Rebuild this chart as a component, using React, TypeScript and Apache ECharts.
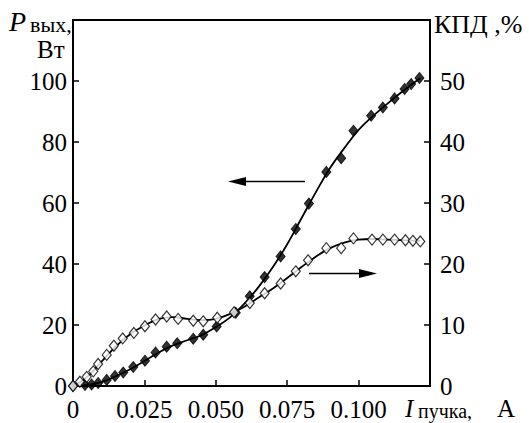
import React, { useEffect, useRef } from 'react';
import * as echarts from 'echarts';

// Filled diamonds: output power, W, vs beam current, A
const currentP = [0, 0.0042, 0.0065, 0.0088, 0.0118, 0.0147, 0.0176, 0.0211, 0.0252, 0.0289, 0.0328, 0.0365, 0.0421, 0.0456, 0.0503, 0.057, 0.0619, 0.0671, 0.0727, 0.078, 0.0826, 0.0887, 0.0939, 0.0982, 0.1044, 0.1085, 0.1126, 0.1161, 0.1184, 0.1213];
const powerW = [0, 0.3, 0.5, 1.0, 2.0, 3.3, 4.4, 6.2, 8.3, 11.0, 12.9, 14.0, 15.5, 16.8, 19.5, 24.0, 29.4, 35.7, 42.5, 51.5, 59.8, 70.2, 74.7, 83.7, 88.6, 91.3, 94.3, 97.4, 99.0, 101.0];

// Open diamonds: efficiency, %, vs beam current, A
const currentE = [0, 0.0024, 0.0048, 0.0071, 0.0088, 0.0118, 0.0143, 0.0174, 0.0213, 0.0252, 0.0289, 0.0328, 0.0368, 0.0421, 0.0456, 0.0505, 0.0564, 0.0619, 0.0671, 0.0727, 0.078, 0.0823, 0.0887, 0.0939, 0.0982, 0.1047, 0.1085, 0.1126, 0.1164, 0.119, 0.1216];
const efficiency = [0, 0.7, 1.5, 2.4, 3.6, 5.1, 6.6, 7.8, 8.7, 9.8, 10.9, 11.4, 11.0, 10.7, 10.6, 11.2, 12.1, 13.6, 15.2, 16.8, 18.8, 20.6, 22.6, 22.6, 24.2, 24.0, 24.0, 24.0, 23.9, 23.8, 23.7];

// Fitted curves as drawn in the figure
const curveX = [0, 0.005, 0.01, 0.015, 0.02, 0.025, 0.03, 0.035, 0.04, 0.045, 0.05, 0.055, 0.06, 0.065, 0.07, 0.075, 0.08, 0.085, 0.09, 0.095, 0.1, 0.105, 0.11, 0.115, 0.1216];
const powerCurve = [0, 0.4, 1.3, 3.2, 5.5, 8.2, 11.0, 13.3, 15.0, 16.7, 19.3, 22.5, 27.0, 32.5, 39.0, 46.5, 55.0, 63.5, 71.5, 78.0, 84.0, 88.5, 92.5, 96.3, 101.0];
const effCurve = [0, 1.5, 4.0, 6.5, 8.5, 9.9, 11.0, 11.3, 11.0, 10.8, 11.0, 11.8, 13.0, 14.5, 16.0, 17.7, 19.5, 21.2, 22.6, 23.5, 24.0, 24.1, 24.0, 23.9, 23.8];

const FONT = 'Liberation Serif';

export default function App() {
  const ref = useRef<HTMLDivElement>(null);
  useEffect(() => {
    if (!ref.current) return;
    const chart = echarts.init(ref.current, null, { renderer: 'svg' });
    const tick = { show: true, inside: true, length: 6, lineStyle: { color: '#000', width: 1.5 } };
    chart.setOption({
      animation: false,
      grid: { left: 73, right: 99, top: 20, bottom: 37, show: true, borderColor: '#000', borderWidth: 2 },
      xAxis: {
        type: 'value', min: 0, max: 0.125, interval: 0.025,
        axisLine: { lineStyle: { color: '#000', width: 2 } },
        axisTick: tick,
        splitLine: { show: false },
        axisLabel: { fontFamily: FONT, fontSize: 25, color: '#000', margin: 11, showMaxLabel: false, formatter: (v: number) => (v === 0 ? '0' : v.toFixed(3)) },
      },
      yAxis: [
        {
          type: 'value', min: 0, max: 120, interval: 20, position: 'left',
          axisLine: { show: true, lineStyle: { color: '#000', width: 2 } },
          axisTick: tick,
          splitLine: { show: false },
          axisLabel: { fontFamily: FONT, fontSize: 25, color: '#000', margin: 6, showMaxLabel: false },
        },
        {
          type: 'value', min: 0, max: 60, interval: 10, position: 'right',
          axisLine: { show: true, lineStyle: { color: '#000', width: 2 } },
          axisTick: tick,
          splitLine: { show: false },
          axisLabel: { fontFamily: FONT, fontSize: 25, color: '#000', margin: 10, showMaxLabel: false },
        },
      ],
      series: [
        {
          type: 'line', yAxisIndex: 0, smooth: 0.4, showSymbol: false, symbol: 'none',
          data: curveX.map((x, i) => [x, powerCurve[i]]),
          lineStyle: { color: '#000', width: 1.8 },
        },
        {
          type: 'line', yAxisIndex: 1, smooth: 0.4, showSymbol: false, symbol: 'none',
          data: curveX.map((x, i) => [x, effCurve[i]]),
          lineStyle: { color: '#000', width: 1.8 },
        },
        {
          type: 'scatter', yAxisIndex: 0, z: 4,
          data: currentP.map((x, i) => [x, powerW[i]]),
          symbol: 'diamond', symbolSize: [9, 11],
          itemStyle: { color: '#000', borderColor: '#000', borderWidth: 1 },
        },
        {
          type: 'scatter', yAxisIndex: 1, z: 5,
          data: currentE.map((x, i) => [x, efficiency[i]]),
          symbol: 'diamond', symbolSize: [9, 11],
          itemStyle: { color: '#fff', borderColor: '#000', borderWidth: 1.2 },
        },
      ],
      graphic: [
        { type: 'text', left: 9, top: 7, style: { text: 'P', fontFamily: FONT, fontStyle: 'italic', fontSize: 28, fill: '#000' } },
        { type: 'text', left: 30, top: 13, style: { text: 'вых,', fontFamily: FONT, fontSize: 22, fill: '#000' } },
        { type: 'text', left: 37, top: 37, style: { text: 'Вт', fontFamily: FONT, fontSize: 25, fill: '#000' } },
        { type: 'text', left: 434, top: 11, style: { text: 'КПД ,%', fontFamily: FONT, fontSize: 26, fill: '#000' } },
        { type: 'text', left: 405, top: 396, style: { text: 'I', fontFamily: FONT, fontStyle: 'italic', fontSize: 25, fill: '#000' } },
        { type: 'text', left: 418, top: 401, style: { text: 'пучка,', fontFamily: FONT, fontSize: 20, fill: '#000' } },
        { type: 'text', left: 497, top: 396, style: { text: 'A', fontFamily: FONT, fontSize: 25, fill: '#000' } },
        { type: 'line', shape: { x1: 240, y1: 181.5, x2: 305, y2: 181.5 }, style: { stroke: '#000', lineWidth: 1.5 } },
        { type: 'polygon', shape: { points: [[228, 181.5], [246, 177], [246, 186]] }, style: { fill: '#000' } },
        { type: 'line', shape: { x1: 309, y1: 273.5, x2: 365, y2: 273.5 }, style: { stroke: '#000', lineWidth: 1.5 } },
        { type: 'polygon', shape: { points: [[377, 273.5], [359, 269], [359, 278]] }, style: { fill: '#000' } },
      ],
    });
    return () => chart.dispose();
  }, []);
  return <div ref={ref} style={{ position: 'fixed', left: 0, top: 0, width: 529, height: 423, background: '#fff' }} />;
}
